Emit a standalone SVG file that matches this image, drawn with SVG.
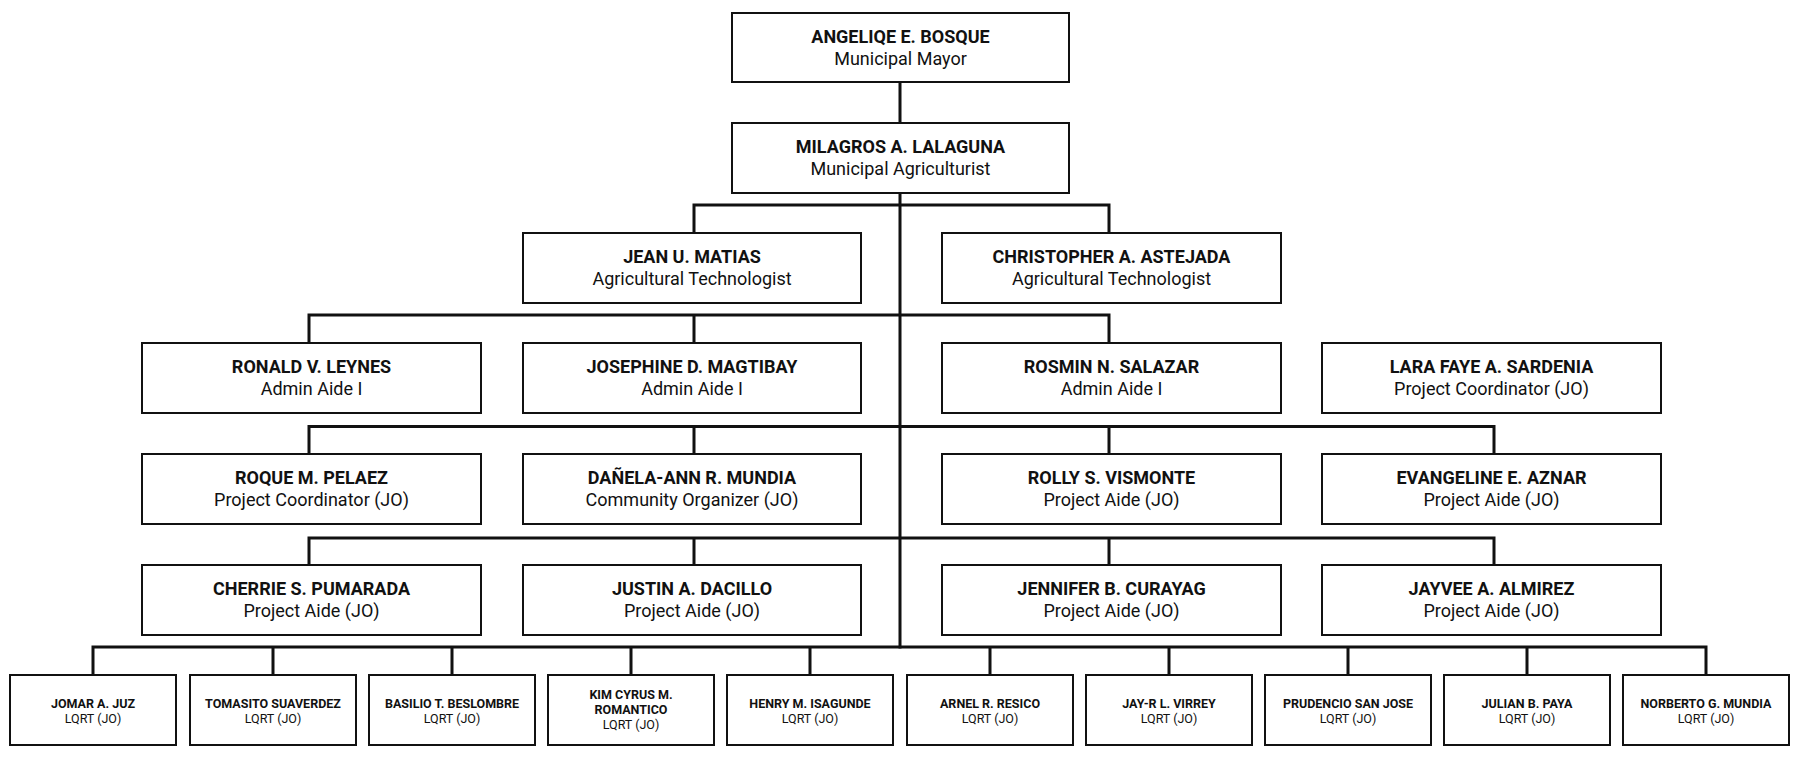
<svg xmlns="http://www.w3.org/2000/svg" width="1800" height="758" viewBox="0 0 1800 758">
<style>
.box{fill:#fff;stroke:#111;stroke-width:2}
.n{font-family:Roboto,"Liberation Sans",sans-serif;font-weight:700;font-size:18px;fill:#111;text-anchor:middle}
.t{font-family:Roboto,"Liberation Sans",sans-serif;font-weight:400;font-size:18px;fill:#111;text-anchor:middle}
.sn{font-family:Roboto,"Liberation Sans",sans-serif;font-weight:700;font-size:12.5px;fill:#111;text-anchor:middle}
.st{font-family:Roboto,"Liberation Sans",sans-serif;font-weight:400;font-size:12.5px;fill:#111;text-anchor:middle}
.c{fill:none;stroke:#111;stroke-width:3;stroke-linejoin:miter;stroke-linecap:square}
</style>
<rect width="1800" height="758" fill="#fff"/>
<g id="connectors">
<path class="c" d="M900 82V123M900 193V647"/>
<path class="c" d="M694 233V205H1109V233"/>
<path class="c" d="M309 343V315H1109V343M694 315V343"/>
<path class="c" d="M309 454V426.5H1494V454M694 426.5V454M1109 426.5V454"/>
<path class="c" d="M309 565V538H1494V565M694 538V565M1109 538V565"/>
<path class="c" d="M93 675V647H1706V675M273 647V675M452 647V675M631 647V675M810 647V675M990 647V675M1169 647V675M1348 647V675M1527 647V675"/>
</g>
<g id="mayor"><rect class="box" x="732" y="13" width="337" height="69"/><text class="n" x="900.5" y="42.5">ANGELIQE E. BOSQUE</text><text class="t" x="900.5" y="64.5">Municipal Mayor</text></g>
<g id="agriculturist"><rect class="box" x="732" y="123" width="337" height="70"/><text class="n" x="900.5" y="153">MILAGROS A. LALAGUNA</text><text class="t" x="900.5" y="175">Municipal Agriculturist</text></g>
<g id="matias"><rect class="box" x="523" y="233" width="338" height="70"/><text class="n" x="692" y="263">JEAN U. MATIAS</text><text class="t" x="692" y="285">Agricultural Technologist</text></g>
<g id="astejada"><rect class="box" x="942" y="233" width="339" height="70"/><text class="n" x="1111.5" y="263">CHRISTOPHER A. ASTEJADA</text><text class="t" x="1111.5" y="285">Agricultural Technologist</text></g>
<g id="leynes"><rect class="box" x="142" y="343" width="339" height="70"/><text class="n" x="311.5" y="373">RONALD V. LEYNES</text><text class="t" x="311.5" y="395">Admin Aide I</text></g>
<g id="magtibay"><rect class="box" x="523" y="343" width="338" height="70"/><text class="n" x="692" y="373">JOSEPHINE D. MAGTIBAY</text><text class="t" x="692" y="395">Admin Aide I</text></g>
<g id="salazar"><rect class="box" x="942" y="343" width="339" height="70"/><text class="n" x="1111.5" y="373">ROSMIN N. SALAZAR</text><text class="t" x="1111.5" y="395">Admin Aide I</text></g>
<g id="sardenia"><rect class="box" x="1322" y="343" width="339" height="70"/><text class="n" x="1491.5" y="373">LARA FAYE A. SARDENIA</text><text class="t" x="1491.5" y="395">Project Coordinator (JO)</text></g>
<g id="pelaez"><rect class="box" x="142" y="454" width="339" height="70"/><text class="n" x="311.5" y="484">ROQUE M. PELAEZ</text><text class="t" x="311.5" y="506">Project Coordinator (JO)</text></g>
<g id="mundia-d"><rect class="box" x="523" y="454" width="338" height="70"/><text class="n" x="692" y="484">DAÑELA-ANN R. MUNDIA</text><text class="t" x="692" y="506">Community Organizer (JO)</text></g>
<g id="vismonte"><rect class="box" x="942" y="454" width="339" height="70"/><text class="n" x="1111.5" y="484">ROLLY S. VISMONTE</text><text class="t" x="1111.5" y="506">Project Aide (JO)</text></g>
<g id="aznar"><rect class="box" x="1322" y="454" width="339" height="70"/><text class="n" x="1491.5" y="484">EVANGELINE E. AZNAR</text><text class="t" x="1491.5" y="506">Project Aide (JO)</text></g>
<g id="pumarada"><rect class="box" x="142" y="565" width="339" height="70"/><text class="n" x="311.5" y="595">CHERRIE S. PUMARADA</text><text class="t" x="311.5" y="617">Project Aide (JO)</text></g>
<g id="dacillo"><rect class="box" x="523" y="565" width="338" height="70"/><text class="n" x="692" y="595">JUSTIN A. DACILLO</text><text class="t" x="692" y="617">Project Aide (JO)</text></g>
<g id="curayag"><rect class="box" x="942" y="565" width="339" height="70"/><text class="n" x="1111.5" y="595">JENNIFER B. CURAYAG</text><text class="t" x="1111.5" y="617">Project Aide (JO)</text></g>
<g id="almirez"><rect class="box" x="1322" y="565" width="339" height="70"/><text class="n" x="1491.5" y="595">JAYVEE A. ALMIREZ</text><text class="t" x="1491.5" y="617">Project Aide (JO)</text></g>
<g id="juz"><rect class="box" x="10" y="675" width="166" height="70"/><text class="sn" x="93" y="707.5">JOMAR A. JUZ</text><text class="st" x="93" y="722.5">LQRT (JO)</text></g>
<g id="suaverdez"><rect class="box" x="190" y="675" width="166" height="70"/><text class="sn" x="273" y="707.5">TOMASITO SUAVERDEZ</text><text class="st" x="273" y="722.5">LQRT (JO)</text></g>
<g id="beslombre"><rect class="box" x="369" y="675" width="166" height="70"/><text class="sn" x="452" y="707.5">BASILIO T. BESLOMBRE</text><text class="st" x="452" y="722.5">LQRT (JO)</text></g>
<g id="romantico"><rect class="box" x="548" y="675" width="166" height="70"/><text class="sn" x="631" y="698.5">KIM CYRUS M.</text><text class="sn" x="631" y="713.5">ROMANTICO</text><text class="st" x="631" y="728.5">LQRT (JO)</text></g>
<g id="isagunde"><rect class="box" x="727" y="675" width="166" height="70"/><text class="sn" x="810" y="707.5">HENRY M. ISAGUNDE</text><text class="st" x="810" y="722.5">LQRT (JO)</text></g>
<g id="resico"><rect class="box" x="907" y="675" width="166" height="70"/><text class="sn" x="990" y="707.5">ARNEL R. RESICO</text><text class="st" x="990" y="722.5">LQRT (JO)</text></g>
<g id="virrey"><rect class="box" x="1086" y="675" width="166" height="70"/><text class="sn" x="1169" y="707.5">JAY-R L. VIRREY</text><text class="st" x="1169" y="722.5">LQRT (JO)</text></g>
<g id="sanjose"><rect class="box" x="1265" y="675" width="166" height="70"/><text class="sn" x="1348" y="707.5">PRUDENCIO SAN JOSE</text><text class="st" x="1348" y="722.5">LQRT (JO)</text></g>
<g id="paya"><rect class="box" x="1444" y="675" width="166" height="70"/><text class="sn" x="1527" y="707.5">JULIAN B. PAYA</text><text class="st" x="1527" y="722.5">LQRT (JO)</text></g>
<g id="mundia-n"><rect class="box" x="1623" y="675" width="166" height="70"/><text class="sn" x="1706" y="707.5">NORBERTO G. MUNDIA</text><text class="st" x="1706" y="722.5">LQRT (JO)</text></g>
</svg>
